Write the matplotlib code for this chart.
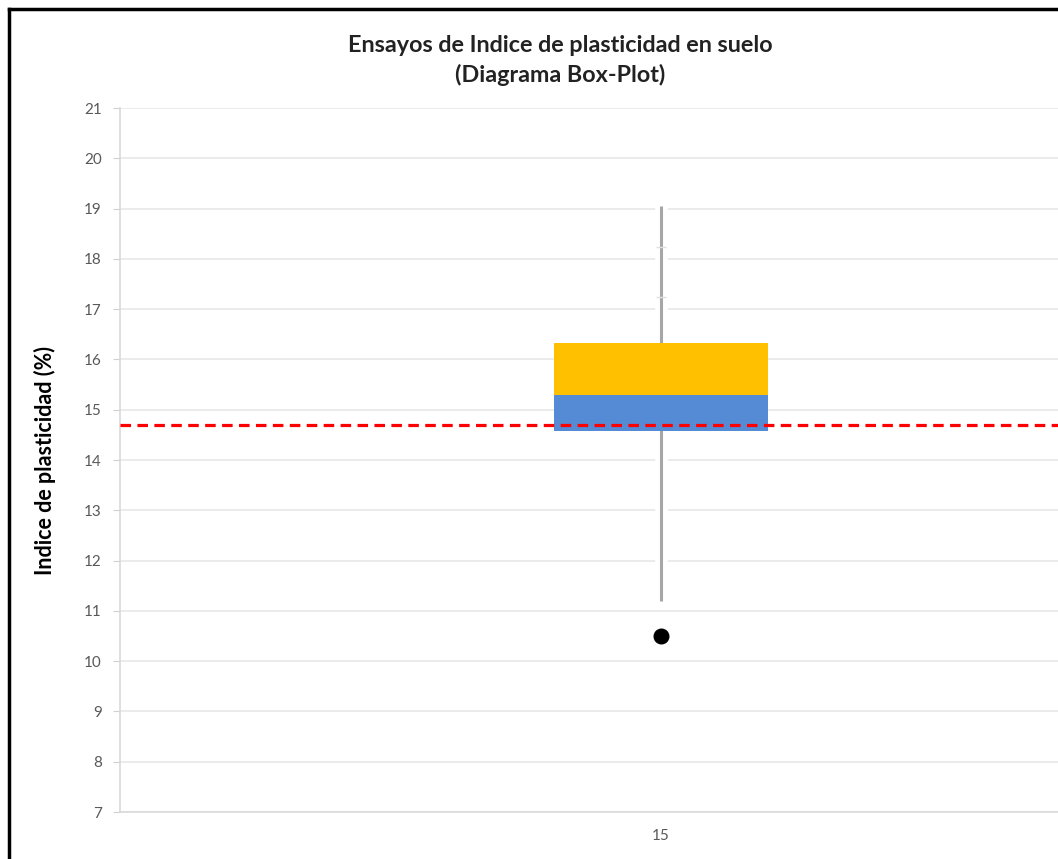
import matplotlib.pyplot as plt
import matplotlib.patheffects as pe
from matplotlib.lines import Line2D

plt.rcParams['font.family'] = ['Lato', 'DejaVu Sans']

# box-plot values
category = ['15']
q1 = [14.57]
median = [15.30]
q3 = [16.33]
whisker_low = [11.20]
whisker_high = [19.05]
inner_points = [17.24, 18.24]
outliers = [10.50]
reference = 14.70
yticks = list(range(7, 22))

fig = plt.figure(figsize=(10.58, 8.59), dpi=100)
ax = fig.add_axes([120 / 1058, 1 - 812 / 859, 1082 / 1058, 704 / 859])

x = [1]
# whisker behind the box, with a white halo that cuts the gridlines
ax.plot([x[0], x[0]], [whisker_low[0], whisker_high[0]], color='#a6a6a6', lw=2.2, zorder=2,
        solid_capstyle='butt',
        path_effects=[pe.Stroke(linewidth=9, foreground='white'), pe.Normal()])
ax.plot([x[0]] * len(inner_points), inner_points, linestyle='none', marker='_',
        markersize=7, color='#e0e0e0', zorder=2.5)

# lower and upper halves of the box
ax.bar(x, [m - a for m, a in zip(median, q1)], bottom=q1, width=0.394,
       color='#558BD5', zorder=3)
ax.bar(x, [b - m for b, m in zip(q3, median)], bottom=median, width=0.394,
       color='#FFC000', zorder=3)

ax.plot([x[0]] * len(outliers), outliers, linestyle='none', marker='o',
        markersize=10.5, color='black', zorder=4)

ax.axhline(reference, color='#ff0000', lw=2.3, dashes=(3.3, 2.0), zorder=5)

ax.set_xlim(0, 2)
ax.set_ylim(7, 21)
ax.set_yticks(yticks)
ax.set_xticks(x)
ax.set_xticklabels(category)
ax.grid(axis='y', color='#e8e8e8', lw=1.2, zorder=0)
ax.set_axisbelow(True)
for side in ['top', 'right']:
    ax.spines[side].set_visible(False)
ax.spines['left'].set_color('#d9d9d9')
ax.spines['bottom'].set_color('#d9d9d9')
ax.spines['left'].set_linewidth(1.2)
ax.spines['bottom'].set_linewidth(1.2)
ax.tick_params(axis='y', colors='#d0d0d0', labelcolor='#595959', length=5, labelsize=11, pad=8)
ax.tick_params(axis='x', length=0, labelcolor='#595959', labelsize=11, pad=12)

ax.set_ylabel('Indice de plasticidad (%)', fontsize=15.5, fontweight='bold', labelpad=20)

fig.text(560 / 1058, 1 - 45 / 859, 'Ensayos de Indice de plasticidad en suelo',
         ha='center', va='center', fontsize=16.8, fontweight='bold', color='#222222')
fig.text(560 / 1058, 1 - 75 / 859, '(Diagrama Box-Plot)',
         ha='center', va='center', fontsize=16.8, fontweight='bold', color='#222222')

# frame of the original screenshot (left and top edges)
fig.add_artist(Line2D([9 / 1058, 9 / 1058], [0, 1 - 9 / 859], color='black', lw=2.5,
                      transform=fig.transFigure))
fig.add_artist(Line2D([9 / 1058, 1], [1 - 9 / 859, 1 - 9 / 859], color='black', lw=2.5,
                      transform=fig.transFigure))

fig.savefig('out.png', dpi=100)
